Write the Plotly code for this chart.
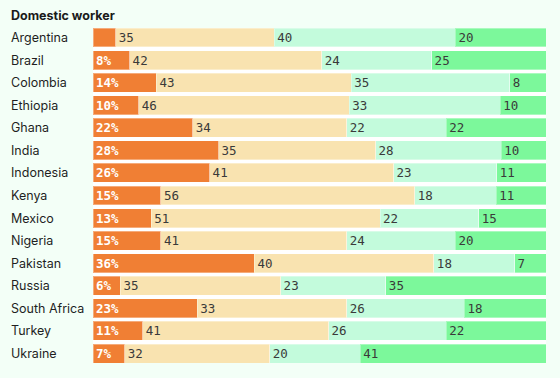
import plotly.graph_objects as go

countries = ["Argentina", "Brazil", "Colombia", "Ethiopia", "Ghana", "India", "Indonesia",
             "Kenya", "Mexico", "Nigeria", "Pakistan", "Russia", "South Africa", "Turkey", "Ukraine"]
seg1 = [5, 8, 14, 10, 22, 28, 26, 15, 13, 15, 36, 6, 23, 11, 7]
seg1_labels = ["", "8%", "14%", "10%", "22%", "28%", "26%", "15%", "13%", "15%", "36%", "6%", "23%", "11%", "7%"]
seg2 = [35, 42, 43, 46, 34, 35, 41, 56, 51, 41, 40, 35, 33, 41, 32]
seg3 = [40, 24, 35, 33, 22, 28, 23, 18, 22, 24, 18, 23, 26, 26, 20]
seg4 = [20, 25, 8, 10, 22, 10, 11, 11, 15, 20, 7, 35, 18, 22, 41]

colors = ["#f07f34", "#f9e3b0", "#c3fbdc", "#7cf89b"]
mono = "DejaVu Sans Mono"

fig = go.Figure()
series = [
    (seg1, seg1_labels, colors[0], "#ffffff"),
    (seg2, [str(v) for v in seg2], colors[1], "#3a3a3a"),
    (seg3, [str(v) for v in seg3], colors[2], "#3a3a3a"),
    (seg4, [str(v) for v in seg4], colors[3], "#3a3a3a"),
]
for i, (vals, labels, col, tcol) in enumerate(series):
    fig.add_trace(go.Bar(
        y=countries, x=vals, orientation="h", name=f"Group {i+1}",
        marker=dict(color=col, line=dict(color="rgba(255,255,255,0.35)", width=1)),
        text=labels, textposition="inside", insidetextanchor="start",
        textfont=dict(family=mono, size=12.5, color=tcol, weight="bold" if i == 0 else "normal"),
        constraintext="none", textangle=0,
        hoverinfo="skip",
    ))

bargap = 0.16
fig.update_layout(
    barmode="stack", barnorm="percent", bargap=bargap,
    width=560, height=378,
    margin=dict(l=93, r=14, t=28, b=15),
    paper_bgcolor="#f3fff7", plot_bgcolor="#ffffff",
    showlegend=False,
    xaxis=dict(range=[0, 100], visible=False, fixedrange=True),
    yaxis=dict(range=[len(countries) - 0.5 - bargap / 2, -0.5 + bargap / 2],
               showticklabels=False, showgrid=False, zeroline=False, fixedrange=True),
)

for c in countries:
    fig.add_annotation(x=-84 / 453, xref="paper", y=c, yref="y", text=c,
                       showarrow=False, xanchor="left", yanchor="middle",
                       font=dict(family="Inter", size=12.5, color="#1f1f1f"))

fig.add_annotation(x=-84 / 453, xref="paper", y=1, yref="paper", yshift=13, text="<b>Domestic worker</b>",
                   showarrow=False, xanchor="left", yanchor="middle",
                   font=dict(family="Inter", size=12.5, color="#1a1a1a"))

fig.write_html("out.html", config={"displayModeBar": False},
               post_script="document.body.style.margin='0';")
